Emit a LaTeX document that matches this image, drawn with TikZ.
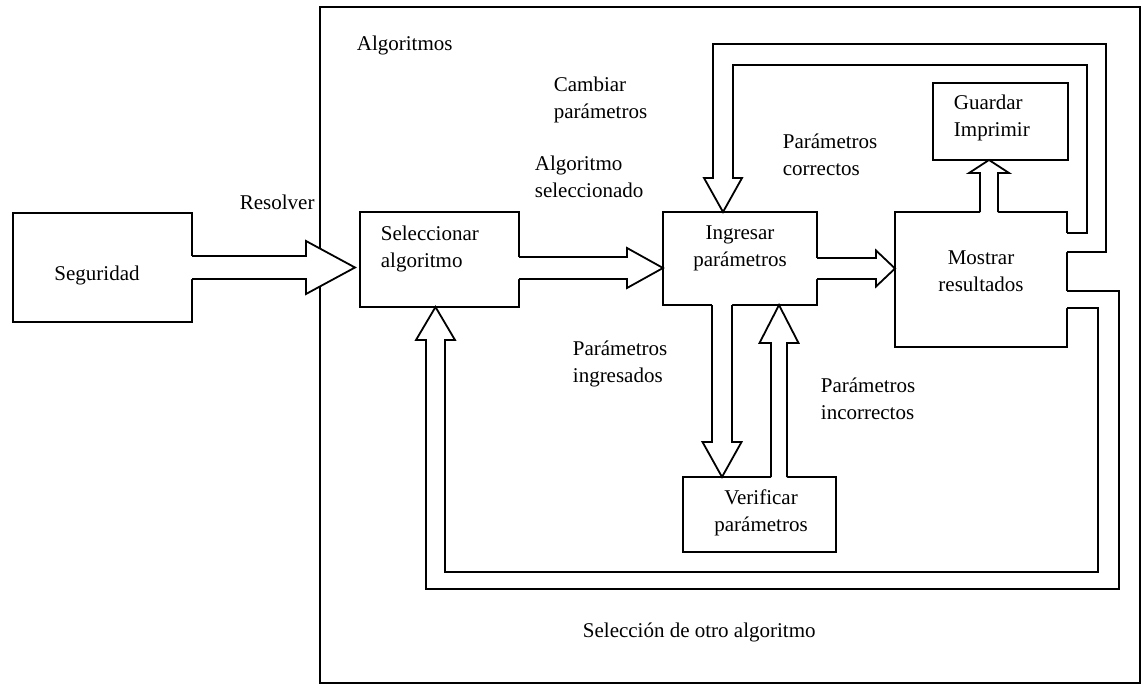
\documentclass[tikz,border=0pt]{standalone}
\usepackage{fontspec}
\setmainfont{Liberation Serif}
\usetikzlibrary{calc}

\begin{document}
\begin{tikzpicture}[x=0.5pt, y=-0.5pt, line width=0.9pt,
  box/.style={draw, inner sep=0pt, outer sep=0pt},
  lbl/.style={inner sep=0pt, font=\fontsize{10.5}{13.5}\selectfont},
  lblL/.style={lbl, anchor=west, align=left},
  lblC/.style={lbl, align=center},
  % hollow block arrow: length, shaft half-width, head half-width, head length
  pics/blockarrow/.style n args={4}{code={
    \fill[white] (-2,-#2) -- ({#1-#4},-#2) -- ({#1-#4},-#3) -- (#1,0)
      -- ({#1-#4},#3) -- ({#1-#4},#2) -- (-2,#2) -- cycle;
    \draw (0,-#2) -- ({#1-#4},-#2) -- ({#1-#4},-#3) -- (#1,0)
      -- ({#1-#4},#3) -- ({#1-#4},#2) -- (0,#2);
  }}]

\useasboundingbox (0,0) rectangle (1143,684);

% frame of the algorithm module
\node[box, minimum width=410pt, minimum height=338pt] (alg) at (730,345) {};

% process boxes
\node[box, minimum width=89.5pt, minimum height=54.5pt] (seg) at (102.5,267.5) {};
\node[box, minimum width=79.5pt, minimum height=47.5pt] (sel) at (439.5,259.5) {};
\node[box, minimum width=77pt,   minimum height=46.5pt] (ing) at (740,258.5) {};
\node[box, minimum width=86pt,   minimum height=67.5pt] (mos) at (981,279.5) {};
\node[box, minimum width=67.5pt, minimum height=38.5pt] (gua) at (1000.5,121.5) {};
\node[box, minimum width=76.5pt, minimum height=37.5pt] (ver) at (759.5,514.5) {};

% straight block arrows
\pic at (seg.east) {blockarrow={163}{11.5}{26.5}{49}};
\pic at ($(sel.east)+(0,8.5)$) {blockarrow={144}{11}{20}{36}};
\pic at ($(ing.east)+(0,10)$) {blockarrow={78}{10.5}{18}{19}};
\pic[rotate=-90] at ($(ing.south)+(-18,0)$) {blockarrow={172}{10}{19.5}{35}};
\pic[rotate=90] at ($(ver.north)+(19.5,0)$) {blockarrow={172}{8}{19.5}{38}};
\pic[rotate=90] at ($(mos.north)+(8,0)$) {blockarrow={52}{9}{20}{13}};

% feedback: correct parameters back to input
\fill[white] ($(mos.north east)+(-3,21)$) -- (1087,233) -- (1087,65) -- (733,65)
  -- (733,178) -- (742,178) -- ($(ing.north)+(-17,0)$) -- (704,178) -- (713,178)
  -- (713,44) -- (1106,44) -- (1106,252) -- ($(mos.north east)+(-3,40)$) -- cycle;
\draw ($(mos.north east)+(0,21)$) -- (1087,233) -- (1087,65) -- (733,65)
  -- (733,178) -- (742,178) -- ($(ing.north)+(-17,0)$) -- (704,178) -- (713,178)
  -- (713,44) -- (1106,44) -- (1106,252) -- ($(mos.north east)+(0,40)$);

% feedback: choose another algorithm
\fill[white] ($(mos.east)+(-3,11.5)$) -- (1119,291) -- (1119,589) -- (426,589)
  -- (426,340) -- (416,340) -- ($(sel.south)+(-4,0)$) -- (455,340) -- (445,340)
  -- (445,572) -- (1098,572) -- (1098,308) -- ($(mos.east)+(-3,28.5)$) -- cycle;
\draw ($(mos.east)+(0,11.5)$) -- (1119,291) -- (1119,589) -- (426,589)
  -- (426,340) -- (416,340) -- ($(sel.south)+(-4,0)$) -- (455,340) -- (445,340)
  -- (445,572) -- (1098,572) -- (1098,308) -- ($(mos.east)+(0,28.5)$);

% box texts
\node[lbl] (tseg) at (97,275) {Seguridad};
\node[lblL] (tsel) at (380,248.5) {Seleccionar\\algoritmo};
\node[lblC] (ting) at (740,248.5) {Ingresar\\parámetros};
\node[lblC] (tmos) at (981,271.5) {Mostrar\\resultados};
\node[lblL] (tgua) at (953,118) {Guardar\\Imprimir};
\node[lblC] (tver) at (761,513) {Verificar\\parámetros};

% flow labels
\node[lblL] (talg) at (356,45) {Algoritmos};
\node[lblL] (tcam) at (553,99.5) {Cambiar\\parámetros};
\node[lblL] (tasel) at (534,176.5) {Algoritmo\\seleccionado};
\node[lblL] (tres) at (239,202) {Resolver};
\node[lblL] (tcor) at (782,155) {Parámetros\\correctos};
\node[lblL] (tingr) at (572,363.5) {Parámetros\\ingresados};
\node[lblL] (tinc) at (820,398.5) {Parámetros\\incorrectos};
\node[lblL] (totro) at (582,632) {Selección de otro algoritmo};

\end{tikzpicture}
\end{document}
